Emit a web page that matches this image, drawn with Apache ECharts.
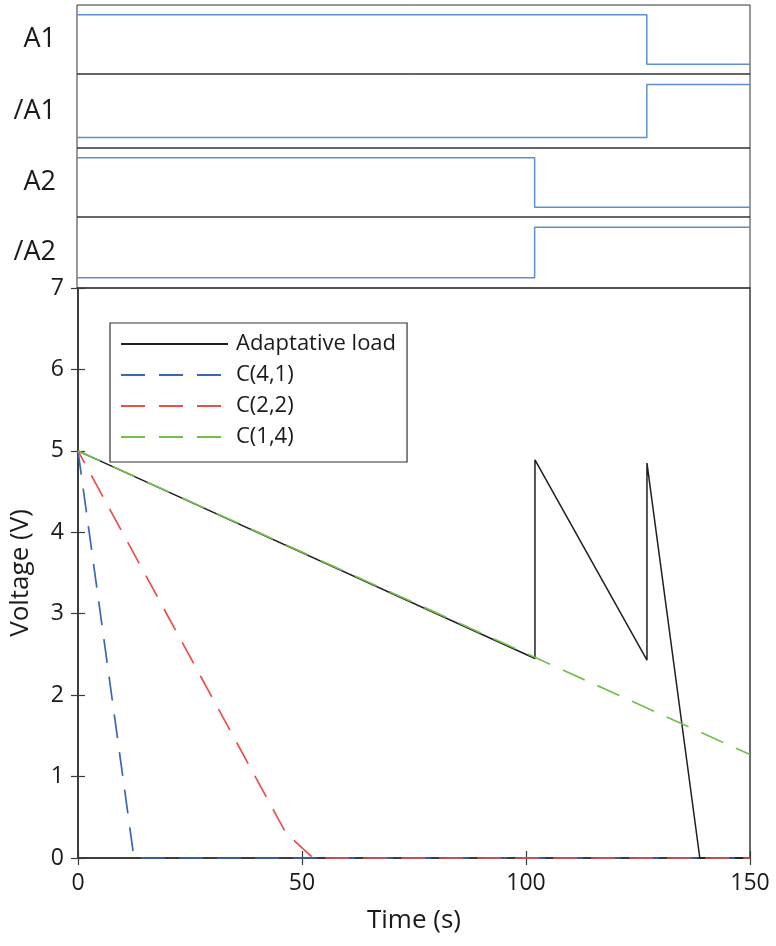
<!DOCTYPE html>
<html>
<head>
<meta charset="utf-8">
<script src="https://cdn.jsdelivr.net/npm/echarts@6/dist/echarts.min.js"></script>
<style>
html,body{margin:0;padding:0;background:#fff;}
#chart{width:776px;height:946px;}
</style>
</head>
<body>
<div id="chart"></div>
<script>
// ---- data ----
const panelNames = ['A1', '/A1', 'A2', '/A2'];
const a1Times = [0, 127, 127, 150];
const a1Levels = [1, 1, 0, 0];
const na1Levels = [0, 0, 1, 1];
const a2Times = [0, 102, 102, 150];
const a2Levels = [1, 1, 0, 0];
const na2Levels = [0, 0, 1, 1];

const loadTime = [0, 102, 102, 127, 127, 138.8, 150];
const loadVolt = [5, 2.45, 4.89, 2.43, 4.85, 0, 0];
const c41Time = [0, 12.5, 150];
const c41Volt = [5, 0, 0];
const c22Time = [0, 44.5, 46.5, 52.5, 150];
const c22Volt = [5, 0.5, 0.3, 0, 0];
const c14Time = [0, 150];
const c14Volt = [5, 1.27];

const xTicks = [0, 50, 100, 150];
const yTicks = [0, 1, 2, 3, 4, 5, 6, 7];
const seriesNames = ['Adaptative load', 'C(4,1)', 'C(2,2)', 'C(1,4)'];

function pairs(xs, ys) { return xs.map((x, i) => [x, ys[i]]); }

const FONT = '"Open Sans", "Noto Sans", sans-serif';
const sigColor = '#5b8fd0';
const panels = [
  {top: 5, height: 69, t: a1Times, v: a1Levels},
  {top: 74, height: 74, t: a1Times, v: na1Levels},
  {top: 148, height: 69, t: a2Times, v: a2Levels},
  {top: 217, height: 71, t: a2Times, v: na2Levels}
];

const grids = [], xAxes = [], yAxes = [], series = [];
panels.forEach((p, i) => {
  grids.push({left: 77, right: 26, top: p.top, height: p.height, show: true,
    borderColor: '#333', borderWidth: 1, backgroundColor: 'transparent'});
  xAxes.push({gridIndex: i, type: 'value', min: 0, max: 150, show: false});
  yAxes.push({gridIndex: i, type: 'value', min: -0.2, max: 1.2,
    axisLine: {show: false}, axisTick: {show: false}, axisLabel: {show: false},
    splitLine: {show: false},
    name: panelNames[i], nameLocation: 'middle', nameRotate: 0, nameGap: 21,
    nameTextStyle: {fontFamily: FONT, fontSize: 27, color: '#1a1a1a'}});
  series.push({type: 'line', xAxisIndex: i, yAxisIndex: i, data: pairs(p.t, p.v),
    symbol: 'none', silent: true, clip: false,
    lineStyle: {color: sigColor, width: 1.5}});
});

// main grid (index 4)
grids.push({left: 77, right: 26, top: 288, bottom: 88, show: true,
  borderColor: '#3a3a3a', borderWidth: 1.5, backgroundColor: 'transparent'});
const axLine = {show: true, lineStyle: {color: '#3a3a3a', width: 1.5}};
const tick = {show: true, inside: true, length: 7, lineStyle: {color: '#3a3a3a', width: 1.2}};
xAxes.push({gridIndex: 4, type: 'value', min: xTicks[0], max: xTicks[xTicks.length - 1], interval: 50,
  position: 'bottom', axisLine: axLine, axisTick: tick, splitLine: {show: false},
  axisLabel: {margin: 14, fontFamily: FONT, fontSize: 23, color: '#1a1a1a'},
  name: 'Time (s)', nameLocation: 'middle', nameGap: 50,
  nameTextStyle: {fontFamily: FONT, fontSize: 26, color: '#1a1a1a'}});
xAxes.push({gridIndex: 4, type: 'value', min: xTicks[0], max: xTicks[xTicks.length - 1], interval: 50,
  position: 'top', axisLine: axLine, axisTick: tick, splitLine: {show: false},
  axisLabel: {show: false}});
yAxes.push({gridIndex: 4, type: 'value', min: yTicks[0], max: yTicks[yTicks.length - 1], interval: 1,
  position: 'left', axisLine: axLine, axisTick: tick, splitLine: {show: false},
  axisLabel: {margin: 14, fontFamily: FONT, fontSize: 23, color: '#1a1a1a'},
  name: 'Voltage (V)', nameLocation: 'middle', nameGap: 44,
  nameTextStyle: {fontFamily: FONT, fontSize: 26, color: '#1a1a1a'}});
yAxes.push({gridIndex: 4, type: 'value', min: yTicks[0], max: yTicks[yTicks.length - 1], interval: 1,
  position: 'right', axisLine: axLine, axisTick: tick, splitLine: {show: false},
  axisLabel: {show: false}});

const dash = [24, 14];
function mainSeries(name, t, v, color, width, type, offset) {
  return {name: name, type: 'line', xAxisIndex: 4, yAxisIndex: 4, z: 3,
    data: pairs(t, v), symbol: 'none', clip: false, color: color,
    lineStyle: {color: color, width: width, type: type, dashOffset: offset || 0}};
}
series.push(mainSeries(seriesNames[0], loadTime, loadVolt, '#1f1f1f', 1.5, 'solid'));
series.push(mainSeries(seriesNames[1], c41Time, c41Volt, '#3b66b6', 1.7, dash));
series.push(mainSeries(seriesNames[2], c22Time, c22Volt, '#e8504a', 1.7, dash, 10));
series.push(mainSeries(seriesNames[3], c14Time, c14Volt, '#74bf4c', 1.7, dash));

const chart = echarts.init(document.getElementById('chart'), null, {renderer: 'canvas'});
chart.setOption({
  animation: false,
  backgroundColor: '#fff',
  grid: grids,
  xAxis: xAxes,
  yAxis: yAxes,
  legend: {
    data: seriesNames, orient: 'vertical', left: 110, top: 323,
    itemWidth: 107, itemHeight: 20, itemGap: 9,
    padding: [10, 11, 14, 10],
    backgroundColor: '#fff', borderColor: '#333', borderWidth: 1.2,
    selectedMode: false,
    itemStyle: {opacity: 0},
    lineStyle: {dashOffset: 0},
    textStyle: {fontFamily: FONT, fontSize: 22, color: '#1a1a1a', padding: [0, 0, 0, 3]}
  },
  series: series
});
</script>
</body>
</html>
